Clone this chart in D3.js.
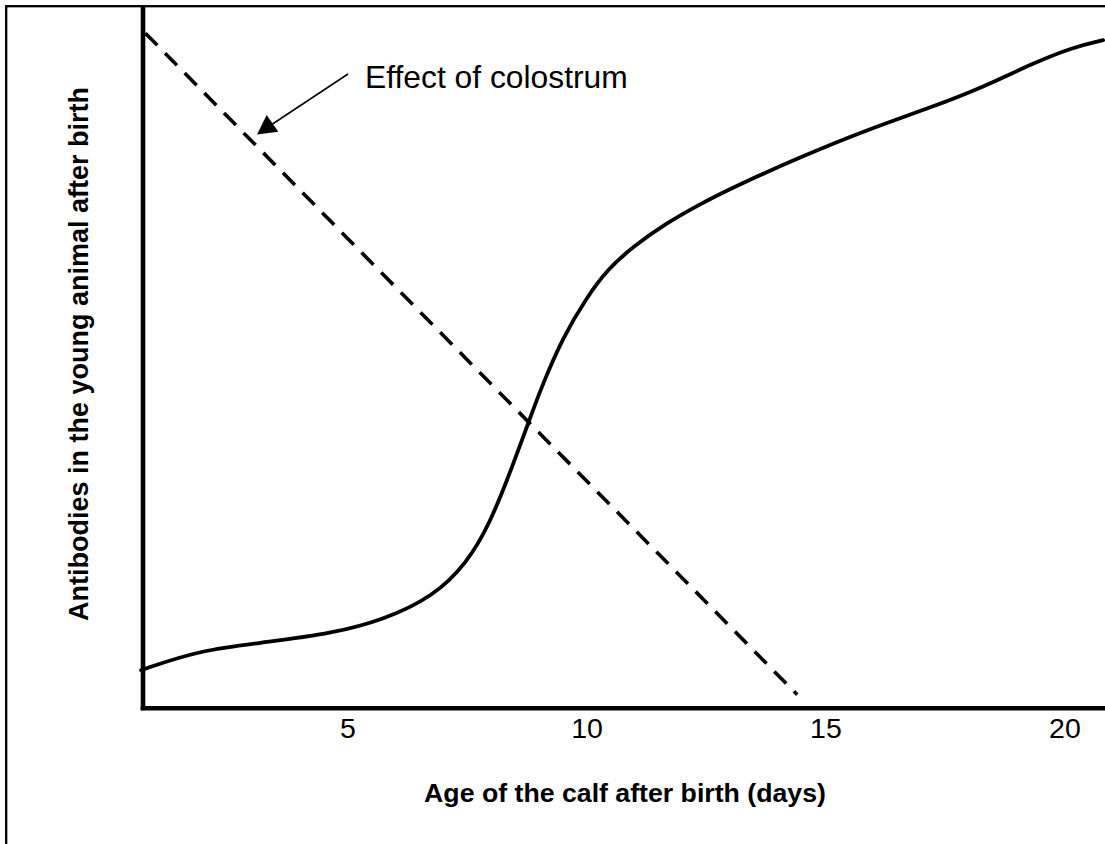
<!DOCTYPE html>
<html>
<head>
<meta charset="utf-8">
<script src="https://cdn.jsdelivr.net/npm/d3@7"></script>
<style>
  html, body { margin: 0; padding: 0; background: #fff; }
  svg { display: block; }
  text { font-family: "Liberation Sans", Arial, Helvetica, sans-serif; fill: #000; }
</style>
</head>
<body>
<svg id="chart" width="1105" height="844"></svg>
<script>
// ---- data ----
const tickValues = [5, 10, 15, 20];
const tickLabels = ["5", "10", "15", "20"];
// antibodies curve (days, relative level)
const curveDays = [0.68, 1.92, 3.32, 4.70, 5.75, 6.79, 7.50, 7.98, 8.40, 8.78, 9.09, 9.51, 10.01, 10.43, 10.97, 11.68, 12.38, 13.07, 14.47, 15.87, 17.25, 18.30, 19.34, 20.18, 20.81];
const curveLevel = [5.4, 8.3, 9.4, 10.7, 12.6, 15.9, 20.7, 26.4, 33.6, 40.7, 46.4, 53.0, 58.7, 62.6, 65.9, 69.3, 72.0, 74.4, 78.7, 82.6, 85.9, 88.7, 92.1, 94.4, 95.4];
// colostrum effect (dashed straight line)
const colostrumDays = [0.77, 14.41];
const colostrumLevel = [96.4, 1.9];
const xDomain = [0.72, 20.85];
const yDomain = [0, 100];
const annotationText = "Effect of colostrum";
const xTitle = "Age of the calf after birth (days)";
const yTitle = "Antibodies in the young animal after birth";

// ---- drawing ----
const svg = d3.select("#chart");
const x = d3.scaleLinear().domain(xDomain).range([143, 1105]);
const y = d3.scaleLinear().domain(yDomain).range([708, 8]);

// outer frame
svg.append("rect")
  .attr("x", 6.2).attr("y", 6.2)
  .attr("width", 1120).attr("height", 860)
  .attr("fill", "none").attr("stroke", "#000").attr("stroke-width", 2.3);

// dashed line
const dashData = colostrumDays.map((d, i) => [d, colostrumLevel[i]]);
svg.append("path")
  .datum(dashData)
  .attr("d", d3.line().x(d => x(d[0])).y(d => y(d[1])))
  .attr("fill", "none").attr("stroke", "#000")
  .attr("stroke-width", 3.6)
  .attr("stroke-dasharray", "17 11");

// antibody curve
const curveData = curveDays.map((d, i) => [d, curveLevel[i]]);
svg.append("path")
  .datum(curveData)
  .attr("d", d3.line().x(d => x(d[0])).y(d => y(d[1])).curve(d3.curveBasis))
  .attr("fill", "none").attr("stroke", "#000")
  .attr("stroke-width", 3.8)
  .attr("stroke-linecap", "round");

// axes lines
svg.append("line")
  .attr("x1", x.range()[0]).attr("x2", x.range()[0])
  .attr("y1", 6).attr("y2", y.range()[0] + 2.3)
  .attr("stroke", "#000").attr("stroke-width", 4.6);
svg.append("line")
  .attr("x1", x.range()[0] - 2.3).attr("x2", x.range()[1])
  .attr("y1", y.range()[0] + 0.3).attr("y2", y.range()[0] + 0.3)
  .attr("stroke", "#000").attr("stroke-width", 4.6);

// tick labels via axis
const xAxis = d3.axisBottom(x)
  .tickValues(tickValues)
  .tickFormat((d, i) => tickLabels[i])
  .tickSize(0).tickPadding(0);
const gx = svg.append("g").attr("transform", `translate(0, ${y.range()[0]})`).call(xAxis);
gx.select(".domain").remove();
gx.selectAll("text")
  .attr("y", 30).attr("dy", null)
  .style("font-family", '"Liberation Sans", Arial, sans-serif')
  .style("font-size", "28.5px")
  .attr("fill", "#000");

// annotation arrow
const arrowStart = [348, 74];
const tip = [257, 134.5];
svg.append("line")
  .attr("x1", arrowStart[0]).attr("y1", arrowStart[1])
  .attr("x2", 268).attr("y2", 127)
  .attr("stroke", "#000").attr("stroke-width", 1.5);
svg.append("path")
  .attr("d", `M${tip[0]},${tip[1]} L266.7,115 L278.3,131.7 Z`)
  .attr("fill", "#000");
svg.append("text")
  .attr("x", 365).attr("y", 88)
  .style("font-size", "31.8px")
  .text(annotationText);

// axis titles
svg.append("text")
  .attr("x", 625).attr("y", 802)
  .attr("text-anchor", "middle")
  .style("font-size", "26.7px").style("font-weight", "bold")
  .text(xTitle);
svg.append("text")
  .attr("transform", "translate(88, 354) rotate(-90)")
  .attr("text-anchor", "middle")
  .style("font-size", "27px").style("font-weight", "bold")
  .text(yTitle);
</script>
</body>
</html>
